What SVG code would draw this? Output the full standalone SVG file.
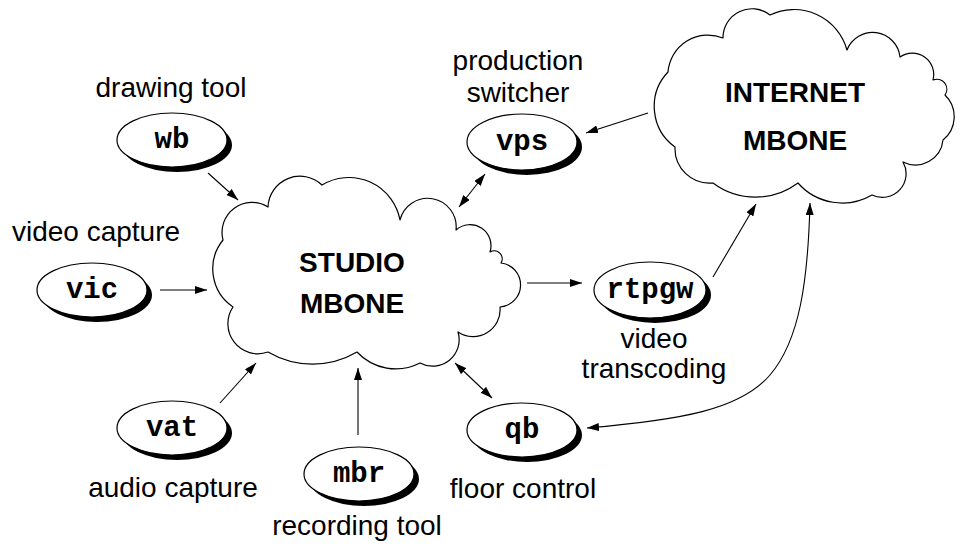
<svg xmlns="http://www.w3.org/2000/svg" width="961" height="549" viewBox="0 0 961 549">
<style>
  .bg { fill: #ffffff; }
  .cloud { fill: none; stroke: #000; stroke-width: 1.2; stroke-linejoin: round; }
  .shadow { fill: #000; stroke: none; }
  .node { fill: #fff; stroke: #000; stroke-width: 1.2; }
  .code { font-family: "Liberation Mono", "Courier New", monospace; font-weight: bold; font-size: 29px; text-anchor: middle; fill: #000; }
  .label { font-family: "Liberation Sans", Arial, sans-serif; font-size: 28px; text-anchor: middle; fill: #000; }
  .title { font-family: "Liberation Sans", Arial, sans-serif; font-weight: bold; font-size: 28px; text-anchor: middle; fill: #000; }
  .edge { fill: none; stroke: #000; stroke-width: 1.1; }
</style>
<defs>
  <marker id="arr" viewBox="0 0 12 8" refX="12" refY="4" markerWidth="12" markerHeight="8" markerUnits="userSpaceOnUse" orient="auto-start-reverse">
    <path d="M0,0 L12,4 L0,8 z" fill="#000"/>
  </marker>
</defs>
<rect class="bg" x="0" y="0" width="961" height="549"/>

<g id="studio">
  <path class="cloud" d="M223,240 A30,30 0 0 1 268,207 A32,32 0 0 1 322,185 A52,52 0 0 1 400,220 A28.5,28.5 0 0 1 456,230 A21,21 0 0 1 490,252 A8,8 0 0 1 501,263 A22.1,22.1 0 0 1 500,307 A27,27 0 0 1 458,332 A26.5,26.5 0 0 1 420,363 A53,53 0 0 1 357,352 A88,88 0 0 1 268,352 A30,30 0 0 1 233,307 A46,46 0 0 1 223,240 Z"/>
  <text class="title" x="352" y="272">STUDIO</text>
  <text class="title" x="352" y="313">MBONE</text>
</g>

<g id="internet">
  <path class="cloud" d="M668,72 A40,40 0 0 1 723,38 A29,29 0 0 1 770,15 A55,55 0 0 1 847,50 A27.5,27.5 0 0 1 900,57 A21.4,21.4 0 0 1 933,80 A10,10 0 0 1 945,95 A30,30 0 0 1 943,140 A27.7,27.7 0 0 1 903,162 A23.7,23.7 0 0 1 872,195 A59,59 0 0 1 798,183 A71,71 0 0 1 713,183 A34.6,34.6 0 0 1 675,147 A50,50 0 0 1 668,72 Z"/>
  <text class="title" x="795" y="102">INTERNET</text>
  <text class="title" x="795" y="150">MBONE</text>
</g>

<g id="wb">
  <ellipse class="shadow" cx="177" cy="145" rx="55" ry="27"/>
  <ellipse class="node" cx="172" cy="140" rx="55" ry="27"/>
  <text class="code" x="172" y="148">wb</text>
  <text class="label" x="171" y="97">drawing tool</text>
</g>

<g id="vic">
  <ellipse class="shadow" cx="97" cy="295" rx="55" ry="27"/>
  <ellipse class="node" cx="92" cy="290" rx="55" ry="27"/>
  <text class="code" x="92" y="298">vic</text>
  <text class="label" x="96" y="241">video capture</text>
</g>

<g id="vat">
  <ellipse class="shadow" cx="177" cy="433" rx="55" ry="27"/>
  <ellipse class="node" cx="172" cy="428" rx="55" ry="27"/>
  <text class="code" x="172" y="436">vat</text>
  <text class="label" x="173" y="497">audio capture</text>
</g>

<g id="mbr">
  <ellipse class="shadow" cx="364" cy="479" rx="55" ry="27"/>
  <ellipse class="node" cx="359" cy="474" rx="55" ry="27"/>
  <text class="code" x="359" y="482">mbr</text>
  <text class="label" x="357" y="535">recording tool</text>
</g>

<g id="qb">
  <ellipse class="shadow" cx="527" cy="435" rx="55" ry="27"/>
  <ellipse class="node" cx="522" cy="430" rx="55" ry="27"/>
  <text class="code" x="522" y="438">qb</text>
  <text class="label" x="523" y="498">floor control</text>
</g>

<g id="rtpgw">
  <ellipse class="shadow" cx="655" cy="295" rx="56" ry="28"/>
  <ellipse class="node" cx="650" cy="290" rx="56" ry="28"/>
  <text class="code" x="650" y="298">rtpgw</text>
  <text class="label" x="654" y="348">video</text>
  <text class="label" x="654" y="378">transcoding</text>
</g>

<g id="vps">
  <ellipse class="shadow" cx="527" cy="147" rx="55" ry="28"/>
  <ellipse class="node" cx="522" cy="142" rx="55" ry="28"/>
  <text class="code" x="522" y="150">vps</text>
  <text class="label" x="518" y="70">production</text>
  <text class="label" x="518" y="102">switcher</text>
</g>

<g id="connectors">
  <line class="edge" x1="208" y1="173" x2="238" y2="200" marker-end="url(#arr)"/>
  <line class="edge" x1="160" y1="290" x2="207" y2="290" marker-end="url(#arr)"/>
  <line class="edge" x1="220" y1="403" x2="256" y2="363" marker-end="url(#arr)"/>
  <line class="edge" x1="358" y1="435" x2="358" y2="368" marker-end="url(#arr)"/>
  <line class="edge" x1="455" y1="363" x2="492" y2="398" marker-start="url(#arr)" marker-end="url(#arr)"/>
  <line class="edge" x1="527" y1="283" x2="582" y2="283" marker-end="url(#arr)"/>
  <line class="edge" x1="485" y1="174" x2="459" y2="207" marker-start="url(#arr)" marker-end="url(#arr)"/>
  <line class="edge" x1="648" y1="113" x2="586" y2="133" marker-end="url(#arr)"/>
  <line class="edge" x1="713" y1="277" x2="756" y2="204" marker-end="url(#arr)"/>
  <path class="edge" d="M587,428 C680,420 740,410 770,375 C800,340 808,280 810,203" marker-start="url(#arr)" marker-end="url(#arr)"/>
</g>
</svg>
